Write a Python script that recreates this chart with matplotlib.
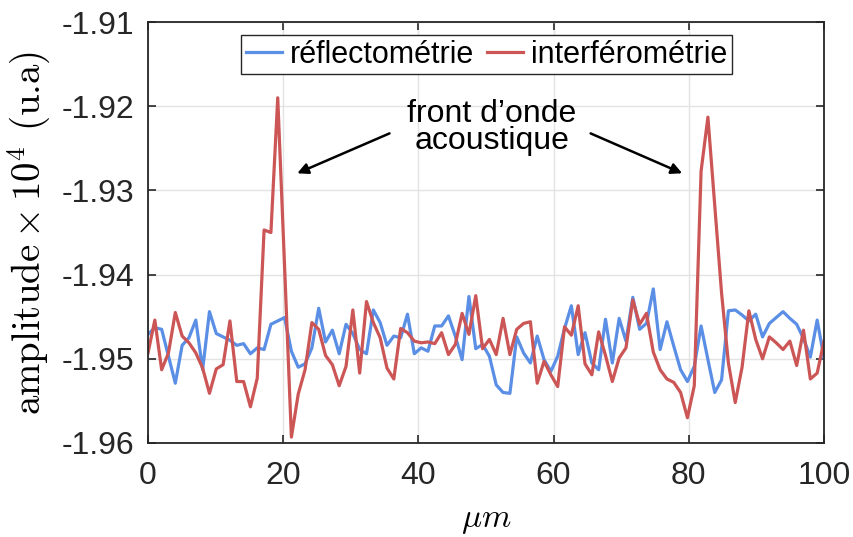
import numpy as np
import matplotlib
matplotlib.use('Agg')
import matplotlib.pyplot as plt

# position (um), 100 samples
x = np.linspace(0, 100, 100)

reflecto = [-1.9471, -1.9463, -1.9465, -1.9497, -1.9529, -1.9484, -1.9475, -1.9454, -1.9513, -1.9444,
            -1.9470, -1.9474, -1.9478, -1.9484, -1.9482, -1.9494, -1.9487, -1.9489, -1.9459, -1.9455,
            -1.9451, -1.9491, -1.9510, -1.9506, -1.9487, -1.9440, -1.9480, -1.9466, -1.9494, -1.9459,
            -1.9470, -1.9489, -1.9494, -1.9442, -1.9457, -1.9484, -1.9473, -1.9475, -1.9447, -1.9494,
            -1.9487, -1.9491, -1.9461, -1.9461, -1.9449, -1.9473, -1.9501, -1.9426, -1.9488, -1.9483,
            -1.9497, -1.9531, -1.9540, -1.9541, -1.9474, -1.9493, -1.9505, -1.9473, -1.9501, -1.9515,
            -1.9497, -1.9464, -1.9437, -1.9495, -1.9469, -1.9505, -1.9513, -1.9453, -1.9505, -1.9452,
            -1.9479, -1.9427, -1.9465, -1.9458, -1.9417, -1.9489, -1.9456, -1.9485, -1.9513, -1.9527,
            -1.9509, -1.9461, -1.9501, -1.9540, -1.9525, -1.9443, -1.9442, -1.9448, -1.9455, -1.9447,
            -1.9474, -1.9458, -1.9451, -1.9444, -1.9452, -1.9459, -1.9476, -1.9498, -1.9454, -1.9499]

interfero = [-1.9493, -1.9454, -1.9513, -1.9493, -1.9445, -1.9473, -1.9481, -1.9493, -1.9511, -1.9541,
             -1.9512, -1.9507, -1.9455, -1.9527, -1.9527, -1.9557, -1.9523, -1.9347, -1.9350, -1.9190,
             -1.9390, -1.9593, -1.9542, -1.9513, -1.9457, -1.9465, -1.9496, -1.9507, -1.9532, -1.9509,
             -1.9442, -1.9517, -1.9432, -1.9457, -1.9475, -1.9511, -1.9524, -1.9464, -1.9469, -1.9479,
             -1.9481, -1.9480, -1.9482, -1.9469, -1.9495, -1.9483, -1.9446, -1.9471, -1.9425, -1.9488,
             -1.9477, -1.9495, -1.9452, -1.9495, -1.9465, -1.9458, -1.9456, -1.9529, -1.9503, -1.9519,
             -1.9533, -1.9462, -1.9472, -1.9437, -1.9506, -1.9519, -1.9468, -1.9496, -1.9527, -1.9499,
             -1.9487, -1.9430, -1.9459, -1.9446, -1.9492, -1.9513, -1.9524, -1.9528, -1.9540, -1.9570,
             -1.9532, -1.9277, -1.9213, -1.9318, -1.9422, -1.9505, -1.9552, -1.9510, -1.9443, -1.9477,
             -1.9500, -1.9474, -1.9481, -1.9489, -1.9479, -1.9508, -1.9466, -1.9524, -1.9517, -1.9479]

xticks = [0, 20, 40, 60, 80, 100]
yticks = [-1.96, -1.95, -1.94, -1.93, -1.92, -1.91]
ytick_labels = ['-1.96', '-1.95', '-1.94', '-1.93', '-1.92', '-1.91']

plt.rcParams['font.family'] = ['Liberation Sans', 'DejaVu Sans']
plt.rcParams['mathtext.fontset'] = 'cm'

dark = '#262626'
fig = plt.figure(figsize=(8.54, 5.37), dpi=100)
ax = fig.add_axes([148/854, 1 - 443/537, 676/854, 421/537])

ax.plot(x, reflecto, color='#5b8fe6', lw=2.3, label='réflectométrie')
ax.plot(x, interfero, color='#cc5555', lw=2.3, label='interférométrie')

ax.set_xlim(0, 100)
ax.set_ylim(-1.96, -1.91)
ax.set_xticks(xticks)
ax.set_yticks(yticks)
ax.set_yticklabels(ytick_labels)
ax.grid(True, color='#e3e3e3', lw=1.0)
ax.set_axisbelow(True)
ax.tick_params(direction='in', length=6, width=1.2, top=True, right=True,
               labelsize=23, colors=dark)
ax.tick_params(axis='x', pad=13)
ax.tick_params(axis='y', pad=10)
for s in ax.spines.values():
    s.set_color(dark)
    s.set_linewidth(1.3)

ax.set_xlabel(r'$\mu m$', fontsize=24, labelpad=10)
ax.set_ylabel(r'$\mathrm{amplitude}\times10^4$ (u.a)', fontsize=28, labelpad=6,
              family='cmr10')

leg = ax.legend(loc='upper center', bbox_to_anchor=(0.5007, 0.969), ncol=2, fontsize=22,
                fancybox=False, edgecolor=dark, handlelength=1.2, handletextpad=0.25,
                columnspacing=0.4, borderpad=0.15, borderaxespad=0, framealpha=1)
leg.get_frame().set_linewidth(1.0)

ax.text(50.9, -1.9225, 'front d\u2019onde\nacoustique', ha='center', va='center',
        fontsize=23, linespacing=0.85, color='k')
ax.annotate('', xy=(21.7, -1.9281), xytext=(36.1, -1.9231),
            arrowprops=dict(arrowstyle='-|>', color='k', lw=1.8, mutation_scale=16))
ax.annotate('', xy=(79.4, -1.9281), xytext=(65.1, -1.9231),
            arrowprops=dict(arrowstyle='-|>', color='k', lw=1.8, mutation_scale=16))

fig.savefig('out.png', dpi=100)
